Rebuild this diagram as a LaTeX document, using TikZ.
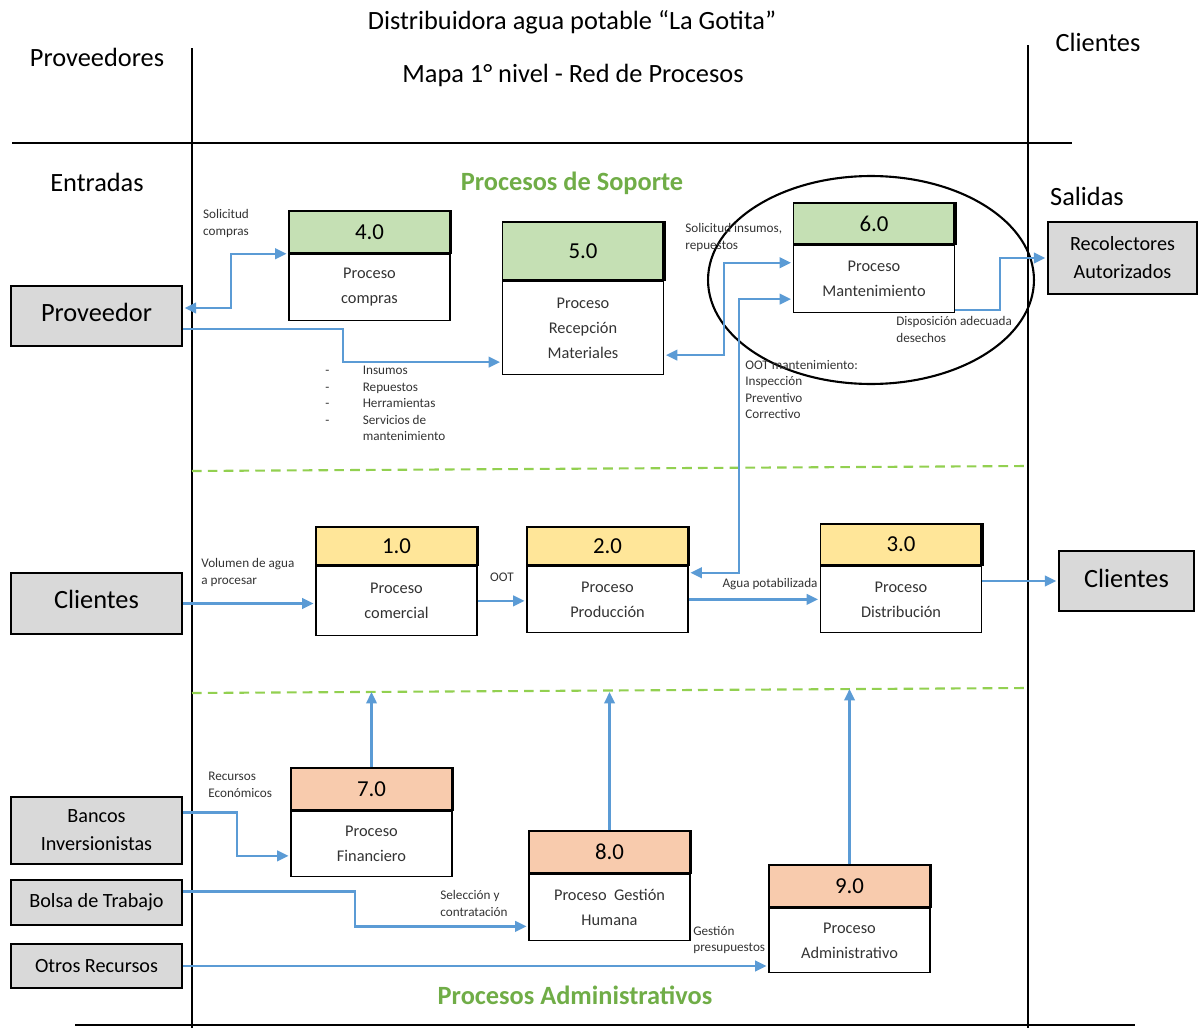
\documentclass[tikz,border=0pt]{standalone}
\usepackage{fontspec}
\setmainfont{Carlito}
\usetikzlibrary{positioning, arrows.meta, calc}
\definecolor{soporte}{HTML}{C5E0B4}
\definecolor{operativo}{HTML}{FFE699}
\definecolor{admin}{HTML}{F8CBAD}
\definecolor{actorgray}{HTML}{D9D9D9}
\definecolor{flowblue}{HTML}{5B9BD5}
\definecolor{titlegreen}{HTML}{70AD47}
\definecolor{dashgreen}{HTML}{92D050}

\begin{document}
\begin{tikzpicture}[x = 0.02cm, y = -0.02cm,
    head/.style = {draw, line width = 0.8pt, minimum width = 3.22cm, inner sep = 0pt, font = \fontsize{13}{15}\selectfont},
    body/.style = {draw, line width = 0.8pt, minimum width = 3.22cm, inner sep = 0pt, align = center, text = black!80, font = \fontsize{9.3}{14.2}\selectfont},
    actor/.style = {draw, fill = actorgray, line width = 1pt, inner sep = 0pt, align = center, font = \fontsize{11.5}{16}\selectfont},
    flow/.style = {draw = flowblue, line width = 1.3pt, shorten > = 1pt, -{Triangle[length = 6.5pt, width = 6pt]}},
    twoway/.style = {flow, shorten < = 1pt, {Triangle[length = 6.5pt, width = 6pt]}-{Triangle[length = 6.5pt, width = 6pt]}},
    note/.style = {font = \fontsize{7.5}{9.4}\selectfont, align = left, inner sep = 0pt, text = black!80},
    heading/.style = {font = \fontsize{15}{17}\selectfont, inner sep = 0pt},
    group/.style = {font = \bfseries\fontsize{15}{17}\selectfont, text = titlegreen, inner sep = 0pt}]
    \useasboundingbox (0,0) rectangle (1198,1028);

    % frame
    \draw[line width = 1pt] (192,48) -- (192,1028);
    \draw[line width = 1pt] (1028,45) -- (1028,1028);
    \draw[line width = 1.2pt] (12,143) -- (1072,143);
    \draw[line width = 1.2pt] (75,1025) -- (1135,1025);
    \draw[dashgreen, line width = 1.2pt, dash pattern = on 5.5pt off 3.5pt] (192,471) -- (1028,466);
    \draw[dashgreen, line width = 1.2pt, dash pattern = on 5.5pt off 3.5pt] (192,693) -- (1028,688);
    \draw[line width = 1.2pt] (871,280) ellipse [x radius = 3.26cm, y radius = 2.08cm];

    % titles
    \node[heading] (titulo) at (572,22) {Distribuidora agua potable “La Gotita”};
    \node[heading] (mapa) at (573,75) {Mapa 1° nivel - Red de Procesos};
    \node[heading] (proveedores) at (97,57) {Proveedores};
    \node[heading] (clientes) at (1098,42) {Clientes};
    \node[heading] (entradas) at (97,182) {Entradas};
    \node[heading] (salidas) at (1087,196) {Salidas};
    \node[group] (soporte) at (572,183) {Procesos de Soporte};
    \node[group] (administrativos) at (575,995) {Procesos Administrativos};

    % actors
    \node[actor, minimum width = 3.42cm, minimum height = 1.2cm, font = \fontsize{15}{17}\selectfont] (prov) at (96.5,316) {\raisebox{4.5pt}{Proveedor}};
    \node[actor, minimum width = 3.42cm, minimum height = 1.22cm, font = \fontsize{15}{17}\selectfont] (cli) at (96.5,603.5) {\raisebox{4.5pt}{Clientes}};
    \node[actor, minimum width = 3.42cm, minimum height = 1.34cm] (bank) at (96.5,830.5) {Bancos\\Inversionistas};
    \node[actor, minimum width = 3.42cm, minimum height = 0.9cm] (bolsa) at (96.5,902.5) {Bolsa de Trabajo};
    \node[actor, minimum width = 3.42cm, minimum height = 0.88cm] (otros) at (96.5,966) {Otros Recursos};
    \node[actor, minimum width = 2.98cm, minimum height = 1.44cm] (rec) at (1122.5,258) {Recolectores\\Autorizados};
    \node[actor, minimum width = 2.7cm, minimum height = 1.2cm, font = \fontsize{15}{17}\selectfont] (clr) at (1126.5,581) {\raisebox{3.5pt}{Clientes}};

    % support processes
    \node[head, fill = soporte, minimum height = 0.84cm] (h4) at (369.5,232) {4.0};
    \node[body, minimum height = 1.32cm, below = 0pt of h4] (p4) {Proceso\\compras};
    \node[head, fill = soporte, minimum height = 1.16cm] (h5) at (583,251) {5.0};
    \node[body, minimum height = 1.86cm, below = 0pt of h5] (p5) {Proceso\\Recepción\\Materiales};
    \node[head, fill = soporte, minimum height = 0.82cm] (h6) at (874,223.5) {6.0};
    \node[body, minimum height = 1.34cm, below = 0pt of h6] (p6) {Proceso\\Mantenimiento};

    % operative processes
    \node[head, fill = operativo, minimum height = 0.76cm] (h1) at (396.5,546) {1.0};
    \node[body, minimum height = 1.38cm, below = 0pt of h1] (p1) {Proceso\\comercial};
    \node[head, fill = operativo, minimum height = 0.76cm] (h2) at (607.5,546) {2.0};
    \node[body, minimum height = 1.32cm, below = 0pt of h2] (p2) {Proceso\\Producción};
    \node[head, fill = operativo, minimum height = 0.82cm] (h3) at (901,544.5) {3.0};
    \node[body, minimum height = 1.32cm, below = 0pt of h3] (p3) {Proceso\\Distribución};

    % administrative processes
    \node[head, fill = admin, minimum height = 0.84cm] (h7) at (371.5,789) {7.0};
    \node[body, minimum height = 1.3cm, below = 0pt of h7] (p7) {Proceso\\Financiero};
    \node[head, fill = admin, minimum height = 0.84cm] (h8) at (609.5,852) {8.0};
    \node[body, minimum height = 1.32cm, below = 0pt of h8] (p8) {Proceso~~Gestión\\Humana};
    \node[head, fill = admin, minimum height = 0.84cm] (h9) at (849.5,886) {9.0};
    \node[body, minimum height = 1.28cm, below = 0pt of h9] (p9) {Proceso\\Administrativo};

    \foreach \h in {h4,h5,h6,h1,h2,h3,h7,h8,h9}
        \draw[line width = 2pt] (\h.north east) -- (\h.south east);

    % flows
    \draw[twoway] ($(prov.east)+(0,-8)$) -- ++(48,0) |- (p4.north west);
    \draw[flow] ($(prov.east)+(0,13)$) -- ++(160,0) |- ($(p5.south west)+(0,-13)$);
    \draw[twoway] ($(p5.south east)+(0,-20)$) -- ++(60,0) |- ($(p6.north west)+(0,18)$);
    \draw[twoway] ($(p2.north east)+(0,7)$) -- ++(50,0) |- ($(p6.south west)+(0,-14)$);
    \draw[flow] ($(p6.south east)+(0,-3)$) -- ++(45,0) |- (rec.west);
    \draw[flow] (cli.east) -- (cli.east -| p1.west);
    \draw[flow] (p1.east) -- (p1.east -| p2.west);
    \draw[flow] (p2.east) -- (p2.east -| p3.west);
    \draw[flow] (p3.east |- clr.west) -- (clr.west);
    \draw[flow] (h7.north) -- ++(0,-77);
    \draw[flow] (h8.north) -- ++(0,-140);
    \draw[flow] (h9.north) -- ++(0,-177);
    \draw[flow] ($(bank.east)+(0,-18)$) -- ++(54,0) |- ($(p7.west)+(0,12)$);
    \draw[flow] ($(bolsa.east)+(0,-11)$) -- ++(172,0) |- ($(p8.west)+(0,19)$);
    \draw[flow] (otros.east) -- (otros.east -| p9.west);

    % flow labels
    \node[note, align = center, anchor = north] (l1) at (226,209) {Solicitud\\compras};
    \node[note, anchor = north west] (l2) at (325,363) {\begin{tabular}{@{}l@{\hspace{19pt}}l@{}}
        - & Insumos\\ - & Repuestos\\ - & Herramientas\\ - & Servicios de\\ & mantenimiento\end{tabular}};
    \node[note, anchor = north west] (l3) at (685,223) {Solicitud insumos,\\repuestos};
    \node[note, anchor = north west] (l4) at (745,360) {OOT mantenimiento:\\Inspección\\Preventivo\\Correctivo};
    \node[note, anchor = north west] (l5) at (896,316) {Disposición adecuada\\desechos};
    \node[note, anchor = north west] (l6) at (201,558) {Volumen de agua\\a procesar};
    \node[note] (l7) at (502,577) {OOT};
    \node[note] (l8) at (770,584) {Agua potabilizada};
    \node[note, anchor = north west] (l9) at (208,772) {Recursos\\Económicos};
    \node[note, anchor = north west] (l10) at (440,890) {Selección y\\contratación};
    \node[note, anchor = north west] (l11) at (693,926) {Gestión\\presupuestos};
\end{tikzpicture}
\end{document}
